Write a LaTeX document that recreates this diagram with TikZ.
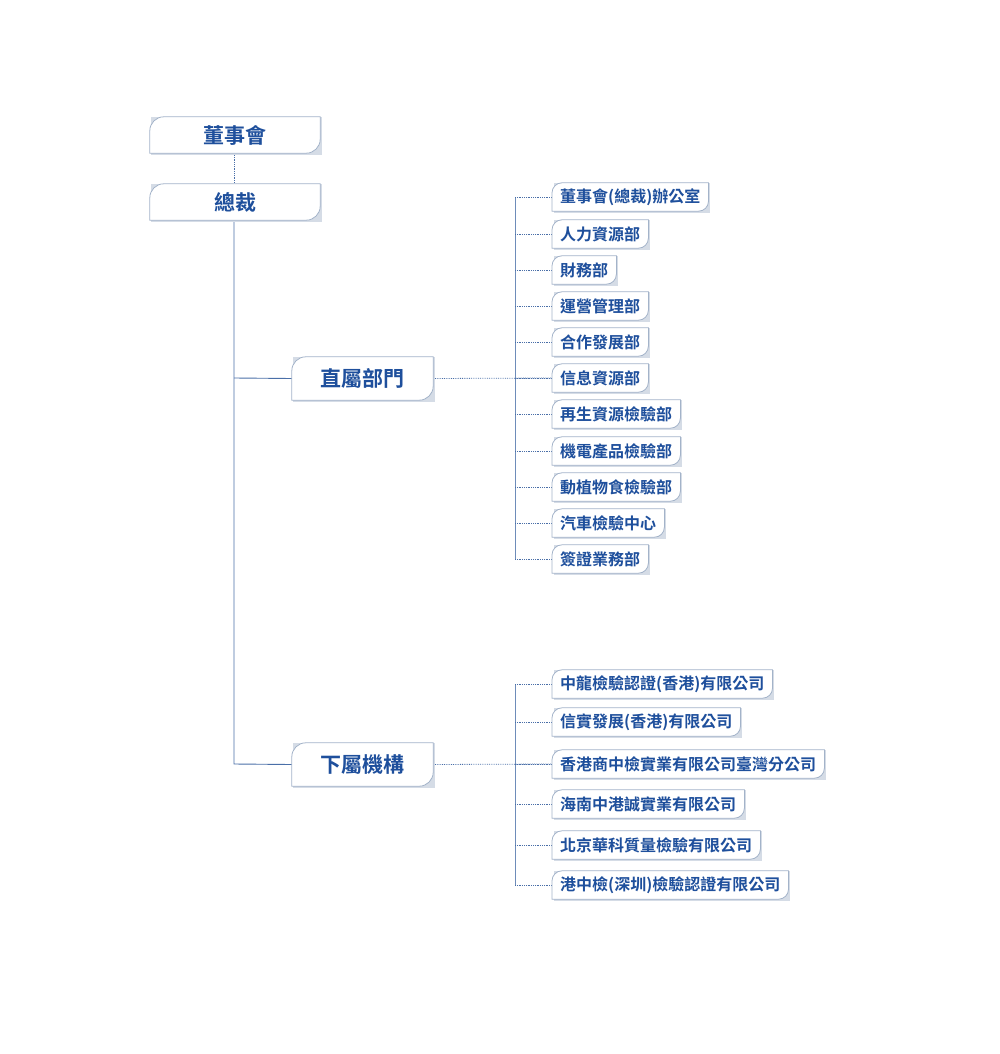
\documentclass[tikz,border=0pt]{standalone}
\usepackage{fontspec}
\setmainfont{Noto Sans CJK TC}[BoldFont={* Bold}]
\newfontfamily\cjkb{Noto Sans CJK TC Bold}
\definecolor{txt}{HTML}{1E4F9C}
\definecolor{bord}{HTML}{A3B3C9}
\definecolor{shad}{HTML}{D5DCE6}
\definecolor{ln}{HTML}{4A6FA8}
\begin{document}
\begin{tikzpicture}[x=1pt,y=-1pt,
  itm/.style={anchor=west,minimum height=28pt,inner xsep=8pt,text=txt,font=\cjkb\fontsize{16}{16}\selectfont},
  big/.style={minimum height=36pt,text=txt,font=\cjkb\fontsize{21}{21}\selectfont},
  dotl/.style={ln,densely dotted,line width=0.8pt},
  soll/.style={ln,line width=0.9pt},
  brk/.style={ln!80,line width=0.7pt}]
\useasboundingbox (0,0) rectangle (1000,1054);
\newcommand{\obox}[2][12]{%
  \fill[shad] ([shift={(1.5pt,-1.5pt)}]#2.south west) -- ([shift={(1.5pt,0pt)}]#2.north west) -- ([shift={(1.5pt,0pt)}]#2.north east) -- ([shift={(1.5pt,-1.5pt)}]#2.south east) -- cycle;
  \fill[white] (#2.south west) -- ([yshift=-#1pt]#2.north west) arc[start angle=180,end angle=90,radius=#1pt] -- (#2.north east) -- ([yshift=#1pt]#2.south east) arc[start angle=0,end angle=-90,radius=#1pt] -- cycle;
  \draw[bord,line width=0.8pt] (#2.south west) -- ([yshift=-#1pt]#2.north west) arc[start angle=180,end angle=90,radius=#1pt] -- (#2.north east) -- ([yshift=#1pt]#2.south east) arc[start angle=0,end angle=-90,radius=#1pt] -- cycle;
  \node[text=txt] at (#2) {\phantom{.}};}
% top
\node[big,minimum width=170pt,minimum height=36pt] (dsh) at (235,135) {董事會};
\node[big,minimum width=170pt,minimum height=36pt] (zc) at (235,202) {總裁};
\node[big,minimum width=141pt,minimum height=43pt] (zs) at (362.5,378.5) {直屬部門};
\node[big,minimum width=141pt,minimum height=43pt] (xs) at (362.5,764.5) {下屬機構};
\coordinate (b1t) at (515,197); \coordinate (b1b) at (515,559);
\coordinate (b2t) at (515,684); \coordinate (b2b) at (515,885);
\coordinate (v1) at (234,378); \coordinate (v2) at (234,764);
\draw[dotl] (dsh.south -| 234,0) -- (zc.north -| 234,0);
\draw[soll] (zc.south -| 234,0) -- (v2) -- (xs.west);
\draw[soll] (v1) -- (zs.west);
\draw[brk] (b1t) -- (b1b);
\draw[brk] (b2t) -- (b2b);
\draw[dotl] (zs.east) -- (552,378);
\draw[dotl] (xs.east) -- (552,764);
\foreach \n in {dsh,zc,zs,xs}{\obox[14]{\n}}
\node[big,minimum width=170pt,minimum height=36pt] at (dsh) {董事會};
\node[big,minimum width=170pt,minimum height=36pt] at (zc) {總裁};
\node[big,minimum width=141pt,minimum height=43pt] at (zs) {直屬部門};
\node[big,minimum width=141pt,minimum height=43pt] at (xs) {下屬機構};
% items
\foreach \y/\t/\nm in {197/董事會(總裁)辦公室/a1,234/人力資源部/a2,270/財務部/a3,306/運營管理部/a4,342/合作發展部/a5,378/信息資源部/a6,414/再生資源檢驗部/a7,451/機電產品檢驗部/a8,487/動植物食檢驗部/a9,523/汽車檢驗中心/a10,559/簽證業務部/a11,684/中龍檢驗認證(香港)有限公司/c1,722/信實發展(香港)有限公司/c2,764/香港商中檢實業有限公司臺灣分公司/c3,804/海南中港誠實業有限公司/c4,845/北京華科質量檢驗有限公司/c5,885/港中檢(深圳)檢驗認證有限公司/c6}{
  \node[itm] (\nm) at (552,\y) {\t};
  \draw[dotl] (515,\y) -- (\nm.west);
  \obox[10]{\nm}
  \node[itm] at (552,\y) {\t};
}
\end{tikzpicture}
\end{document}
